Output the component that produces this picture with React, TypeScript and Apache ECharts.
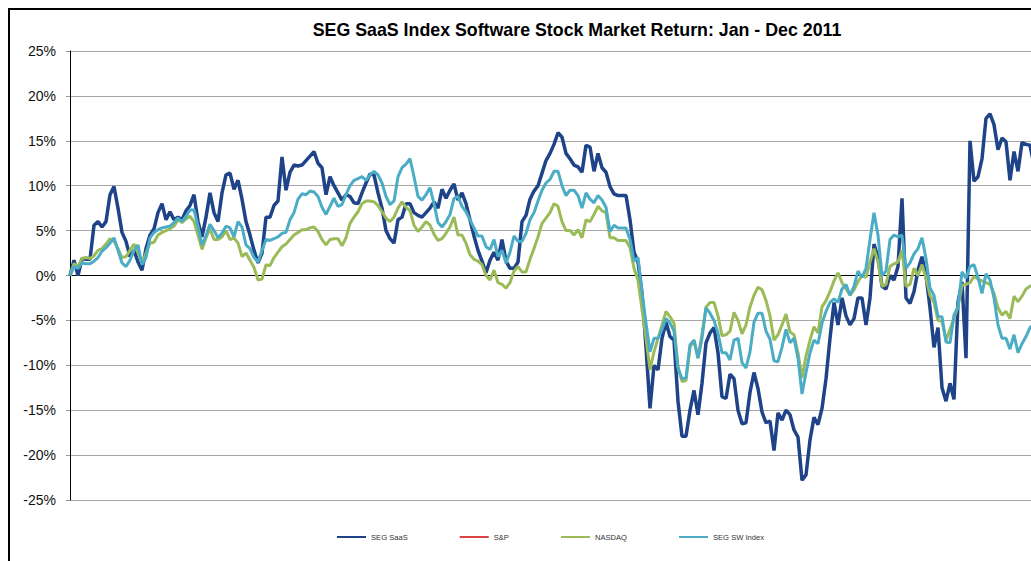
import React, { useEffect, useRef } from "react";
import * as echarts from "echarts";

const titleText = "SEG SaaS Index Software Stock Market Return: Jan - Dec 2011";
const seriesNames = ["SEG SaaS", "S&P", "NASDAQ", "SEG SW Index"];
const seriesColors = ["#1F4388", "#D94545", "#9BBB59", "#4BACC6"];

const saas = [
  0, 1.7, 0, 1.9, 1.8, 1.8, 5.6, 6.0, 5.4, 6.0,
  9.0, 9.9, 7.5, 4.8, 3.8, 2.1, 2.8, 1.5, 0.6, 3.0,
  4.5, 5.2, 7.0, 8.0, 6.2, 7.1, 6.2, 6.5, 6.2, 7.2,
  7.8, 9.0, 6.0, 4.3, 6.5, 9.2, 7.0, 6.0, 9.2, 11.2,
  11.4, 9.6, 10.6, 8.5, 6.0, 4.5, 2.8, 1.4, 2.5, 6.5,
  6.5, 7.8, 8.3, 13.2, 9.5, 11.5, 12.3, 12.2, 12.3, 12.8,
  13.3, 13.8, 12.5, 12.0, 9.0, 11.0, 10.0, 9.2, 8.4, 9.0,
  8.8, 8.1, 8.0, 9.2, 10.3, 11.3, 11.2, 9.2, 7.5, 5.0,
  4.1, 3.6, 6.2, 6.5, 8.0, 8.0, 7.0, 6.7, 6.5, 7.0,
  7.5, 8.2, 7.5, 9.6, 8.6, 9.5, 10.2, 8.4, 9.2, 8.0,
  6.2, 4.4, 2.8, 1.6, 0.3, 1.7, 2.6, 1.7, 4.0, 1.6,
  0.8, 0.8, 1.5, 6.0, 6.7, 8.5, 9.4, 10.0, 11.4, 12.8,
  13.6, 14.6, 15.9, 15.4, 13.6, 13.0, 12.3, 12.1, 11.5, 14.5,
  14.3, 11.6, 13.6, 12.0, 11.5, 9.9, 9.1, 8.9, 8.9, 8.9,
  6.2, 2.6, 1.5, -2.0, -8.0, -14.8, -10.0, -10.5, -7.0, -5.2,
  -6.8, -7.2, -14.0, -17.9, -17.9, -15.0, -12.8, -15.5, -12.0, -7.5,
  -6.4, -5.8, -8.6, -13.5, -13.7, -11.0, -11.5, -15.0, -16.5, -16.4,
  -13.0, -10.8, -12.6, -15.2, -16.4, -16.2, -19.5, -15.3, -16.1, -15.0,
  -15.5, -17.2, -18.0, -22.8, -22.2, -18.3, -15.8, -16.6, -14.8, -11.5,
  -7.0, -3.0, -5.5, -2.5, -4.5, -5.5, -4.8, -2.5, -2.5, -5.5,
  -2.5, 3.5, 2.0, -1.2, -1.5, 0.0, -0.5, 1.0, 8.6, -2.5,
  -3.1, -1.8, 0.6, 2.1, 0.0, -3.6, -8.0, -5.8, -12.5, -14.0,
  -12.0, -13.8, -3.0, -0.7, -9.2, 15.0, 10.5, 11.0, 13.0, 17.5,
  18.0, 16.8, 14.0, 15.3, 14.9, 10.6, 13.8, 11.6, 14.8, 14.6,
  14.5, 12.3,
];

const sp: number[] = [];

const nasdaq = [
  0, 1.3, 1.0, 1.9, 2.0, 1.9, 2.2, 2.8, 3.0, 3.5,
  4.1, 3.8, 3.0, 2.0, 2.1, 2.8, 3.5, 2.6, 1.4, 2.5,
  3.6, 3.7, 4.5, 4.8, 5.0, 5.2, 5.5, 6.2, 5.9, 6.3,
  6.6, 6.0, 4.5, 2.9, 4.2, 5.2, 4.0, 4.0, 4.3, 5.0,
  4.0, 4.2, 3.6, 2.1, 2.5, 1.7, 0.9, -0.5, -0.4, 1.2,
  1.1, 2.0, 2.6, 3.2, 3.5, 4.0, 4.5, 4.8, 5.1, 5.1,
  5.3, 5.4, 4.9, 4.0, 3.4, 4.0, 4.1, 4.1, 3.3, 4.2,
  5.8, 6.5, 7.1, 8.0, 8.3, 8.3, 8.2, 7.8, 7.1, 6.4,
  6.0, 6.5, 7.5, 8.2, 7.6, 7.2, 5.6, 4.9, 5.4, 6.0,
  5.6, 4.6, 3.9, 4.1, 4.7, 5.4, 6.5, 4.5, 4.5, 3.6,
  2.3, 1.8, 1.6, 1.2, 0.0, -0.5, 0.6, -0.8, -1.0, -1.4,
  -0.8, 0.5, 1.0, 0.4, 0.4, 1.8, 3.0, 4.3, 5.8, 6.4,
  7.0, 8.0, 7.7, 6.0, 5.0, 5.0, 4.5, 5.1, 4.2, 6.2,
  6.0, 6.8, 7.7, 7.2, 7.0, 4.2, 4.2, 3.9, 3.9, 3.9,
  3.1, 0.8, -0.5, -3.8, -7.0, -10.5, -8.5, -7.0, -5.5, -4.0,
  -4.6, -5.3, -10.2, -11.8, -11.7, -8.0, -7.2, -9.2, -6.5, -3.5,
  -3.0, -3.0, -4.5, -6.7, -6.6, -6.2, -4.1, -5.0, -6.5, -5.5,
  -3.5, -2.2, -1.3, -1.6, -2.8, -4.5, -7.2, -6.6, -5.5, -4.3,
  -6.3, -6.6, -8.6, -11.4, -9.0, -7.2, -5.7, -6.4, -3.5, -2.8,
  -1.8, -0.6, 0.3, -0.8, -1.5, -2.2, -1.6, -0.7, 0.0, -0.2,
  1.5, 3.0, 1.5, -1.2, -1.0, 1.0, 1.3, 1.5, 2.8, -1.2,
  -1.0, 0.8, 0.0, 1.2, -0.3, -2.2, -3.0, -5.0, -5.1, -7.2,
  -6.0, -4.7, -3.5, -1.1, -1.0, -0.8, -0.1, -0.4, -0.6, -0.8,
  -1.0, -2.0, -3.6, -4.4, -4.0, -4.8, -2.3, -2.9, -2.3, -1.5,
  -1.2, -1.0,
];

const swIndex = [
  0, 1.0, 0.8, 1.4, 1.3, 1.3, 1.6, 2.0, 2.7, 3.1,
  3.6, 4.2, 2.8, 1.4, 1.0, 1.7, 2.8, 3.4, 1.2, 2.0,
  4.2, 4.8, 5.1, 5.3, 5.4, 5.5, 5.9, 6.4, 6.0, 6.6,
  7.3, 7.3, 5.5, 3.4, 4.4, 5.7, 5.0, 4.2, 4.7, 5.5,
  5.3, 4.3, 6.0, 5.4, 3.4, 3.0, 2.0, 1.5, 2.8, 4.0,
  3.9, 4.1, 4.3, 4.7, 4.8, 6.2, 7.0, 8.5, 9.1, 9.0,
  9.4, 9.3, 8.8, 7.6, 6.8, 7.7, 8.6, 7.7, 7.9, 9.0,
  10.0, 10.6, 10.8, 11.0, 10.6, 11.2, 11.6, 11.2, 10.3, 8.8,
  7.9, 8.3, 11.0, 12.0, 12.4, 13.0, 11.0, 8.8, 8.4, 9.0,
  9.8, 8.0, 5.9, 5.4, 6.0, 6.8, 8.6, 8.8, 7.7, 7.1,
  6.2, 5.3, 4.4, 4.4, 3.2, 2.9, 4.0, 2.1, 2.8, 1.4,
  2.6, 4.4, 3.8, 3.8, 4.7, 6.2, 7.0, 8.3, 9.5, 10.3,
  10.7, 11.6, 11.6, 10.0, 8.9, 9.5, 9.5, 8.9, 7.5, 9.2,
  8.5, 8.1, 8.9, 8.4, 7.6, 4.9, 5.6, 5.3, 5.3, 5.3,
  4.0, 1.6, 2.0, -1.8, -5.3, -8.5, -7.0, -7.0, -6.0, -4.8,
  -5.3, -6.2, -10.3, -11.5, -11.4, -7.7, -7.2, -9.2, -7.0, -3.6,
  -4.2, -5.0, -6.4, -8.6, -8.6, -9.4, -7.2, -7.0, -9.7, -10.3,
  -8.5, -5.2, -4.2, -4.2, -6.2, -7.1, -9.5, -9.6, -8.0, -6.0,
  -7.5, -7.0, -9.2, -13.2, -10.8, -8.6, -7.2, -7.6, -5.3, -4.0,
  -3.0, -2.6, -3.0, -1.5, -1.0, -2.2, -1.2, 0.5, -0.2, 0.8,
  4.0, 7.0, 4.5, 0.0, 0.5, 4.0, 4.5, 4.3, 4.5, 0.8,
  1.4, 2.4, 3.0, 4.2, 1.9, -1.4, -2.2, -4.6, -4.6, -7.4,
  -7.5, -4.4, -3.5, 0.4, -0.3, 1.0, 1.2, -0.2, -2.0, 0.2,
  -0.5, -2.5, -5.5, -7.0, -7.0, -8.2, -6.6, -8.6, -7.6, -6.8,
  -5.8, -5.4,
];

const tradingDays = saas.map((_, i) => String(i + 1));
const yMin = -25;
const yMax = 25;
const yStep = 5;

const FONT = "'Liberation Sans', Arial, sans-serif";

export default function App() {
  const ref = useRef<HTMLDivElement>(null);

  useEffect(() => {
    if (!ref.current) return;
    const chart = echarts.init(ref.current, undefined, { renderer: "svg" });
    const dataSets = [saas, sp, nasdaq, swIndex];
    const widths = [3.5, 3, 3, 3];
    chart.setOption({
      animation: false,
      backgroundColor: "#ffffff",
      textStyle: { fontFamily: FONT },
      title: {
        text: titleText,
        left: "center",
        top: 6,
        textStyle: { fontFamily: FONT, fontSize: 17.8, fontWeight: "bold", color: "#000" },
      },
      legend: {
        left: 322,
        top: 518,
        itemGap: 52,
        itemWidth: 29,
        itemHeight: 2,
        icon: "rect",
        data: seriesNames,
        textStyle: { fontFamily: FONT, fontSize: 7.6, color: "#333" },
      },
      grid: { left: 60, top: 41, right: 110, bottom: 90 },
      xAxis: {
        type: "category",
        data: tradingDays,
        boundaryGap: false,
        axisLine: { show: true, onZero: true, lineStyle: { color: "#000", width: 1 } },
        axisTick: { show: false },
        axisLabel: { show: false },
        splitLine: { show: false },
      },
      yAxis: {
        type: "value",
        min: yMin,
        max: yMax,
        interval: yStep,
        axisLine: { show: true, lineStyle: { color: "#000", width: 1 } },
        axisTick: { show: true, length: 4, inside: false, lineStyle: { color: "#999" } },
        axisLabel: {
          formatter: "{value}%",
          fontFamily: FONT,
          fontSize: 14,
          color: "#111",
          margin: 14,
        },
        splitLine: { show: true, lineStyle: { color: "#a6a6a6", width: 1 } },
      },
      series: seriesNames.map((name, k) => ({
        name,
        type: "line",
        data: dataSets[k],
        symbol: "none",
        showSymbol: false,
        color: seriesColors[k],
        lineStyle: { color: seriesColors[k], width: widths[k] },
        z: 2 + k,
      })),
    });
    return () => chart.dispose();
  }, []);

  return (
    <div
      style={{
        position: "fixed",
        left: 8,
        top: 8,
        width: 1023,
        height: 553,
        overflow: "hidden",
      }}
    >
      <div style={{ width: 1134, height: 580, border: "2px solid #000", background: "#fff" }}>
        <div ref={ref} style={{ width: 1134, height: 580 }} />
      </div>
    </div>
  );
}
